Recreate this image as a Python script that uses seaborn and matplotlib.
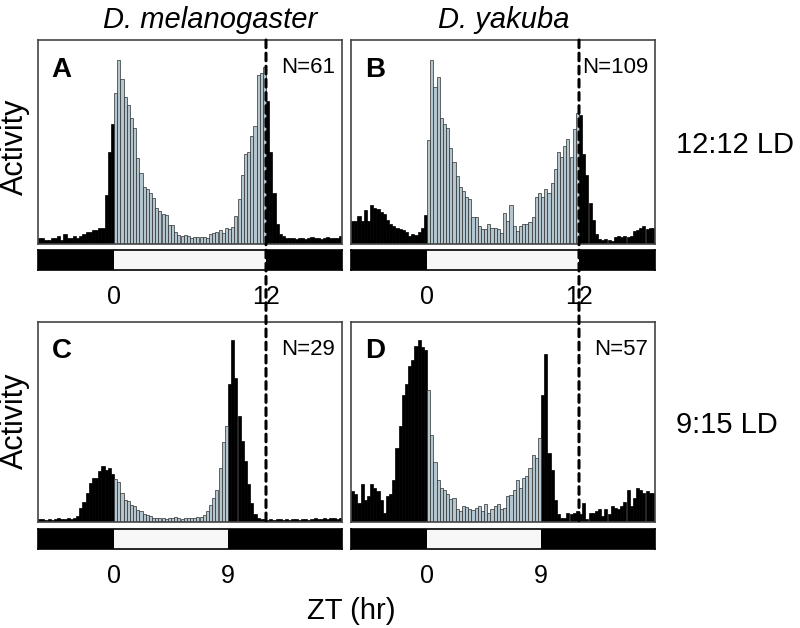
import numpy as np
import pandas as pd
import matplotlib
matplotlib.use("Agg")
import matplotlib.pyplot as plt
import seaborn as sns
from matplotlib.patches import ConnectionPatch

sns.set_style("white")
plt.rcParams["font.family"] = ["Liberation Sans", "DejaVu Sans"]
plt.rcParams["text.color"] = "black"
plt.rcParams["xtick.color"] = "black"
plt.rcParams["xtick.labelcolor"] = "black"

# -----------------------------
# DATA  (mean activity per 15-min bin, ZT -6 .. 18, % of panel height)
# -----------------------------
species = ["D. melanogaster", "D. yakuba"]
regimes = ["12:12 LD", "9:15 LD"]
light_hours = [12, 9]
panel_letters = ["A", "B", "C", "D"]
n_flies = ["N=61", "N=109", "N=29", "N=57"]
xtick_labels = [["0", "12"], ["0", "9"]]

act_A = [3, 3, 2, 2, 3, 3, 4, 2, 5, 3, 3, 4, 3, 4, 5, 6, 6, 7, 7, 8, 8, 24, 45, 59,
         74, 90, 81, 72, 68, 62, 57, 42, 35, 28, 27, 25, 22.5, 17.5, 16, 14.5, 14, 9.5, 9.5, 6,
         4.5, 4, 4.5, 4, 3, 3.3, 3.3, 3.3, 3.3, 3, 5, 5.5, 6, 7, 5.5, 8, 7.5, 8.5, 13.5, 22,
         34, 44, 45, 53, 58, 83, 84, 87,
         70, 45, 25, 10, 5, 4, 3, 3, 3, 2.5, 3, 3, 2.5, 3, 3.5, 3, 3, 2.5, 3, 3.5, 3, 3, 3, 4]

act_B = [11.5, 11.5, 13.5, 11.5, 16.5, 11.5, 19, 17.5, 17, 15.5, 14.5, 12, 10, 9, 8, 7.5,
         7, 6, 4, 5, 4.5, 6, 8, 14,
         51, 90, 77, 82, 62, 59, 57, 47, 40, 33.5, 28, 26, 23, 22, 13, 13, 9, 7.5, 7.5, 10,
         8, 8, 7.5, 5.5, 15, 11.5, 19, 9, 6.5, 9, 10, 10, 11, 13, 23, 25, 23, 27, 25, 30,
         37, 45, 42.5, 48, 51.5, 42.5, 56.5, 64,
         63, 44, 34, 20, 12, 5, 2.5, 2, 2.5, 2, 1.5, 3.3, 4, 3.3, 4, 3.3, 4, 6.5, 7, 8, 9,
         7.5, 8, 8]

act_C = [1.5, 1.5, 1, 1.5, 1, 1.5, 2, 1.5, 1.5, 2, 1.5, 2, 3, 7, 10, 14.5, 19.5, 22, 22,
         25.5, 28, 26, 27, 24,
         21.5, 20, 14.5, 11, 10.5, 8.5, 8, 6, 5.5, 4, 3.5, 3, 2, 2, 2, 2, 1.5, 2, 2, 2.5,
         2, 1.5, 2, 2, 2, 2, 2.5, 2.5, 3.5, 5.5, 8.5, 12, 16, 27, 40, 48,
         69, 91, 72, 53, 40.5, 30.5, 19, 9.5, 4, 2, 1.5, 1.5, 1, 1.5, 1, 1.5, 1.5, 1, 1.5,
         1, 1.5, 1.5, 1, 1.5, 1.5, 1, 1.5, 2, 1.5, 1.5, 2, 1.5, 2, 2, 1.5, 2]

act_D = [15.5, 14, 9.5, 19, 11, 13, 19, 17, 15.5, 11, 4.5, 13,
         14, 21, 37, 48, 63.5, 69, 78, 81, 88, 91, 87.5, 86,
         66, 43.5, 30, 21, 17, 16, 14, 11.5, 12, 6.5, 5.5, 8, 7.5, 6.5, 6, 7, 8, 5.5, 9,
         4.5, 6.5, 8, 9, 6.5, 7, 13, 13.5, 16, 21, 17, 22, 23, 27, 33.5, 32, 42,
         63.5, 84, 34.5, 26, 11, 4, 2, 2, 4.5, 4, 4.5, 5.5, 4, 9.5, 1.5, 4.5, 4.5, 5.5,
         6.5, 3, 6.5, 4, 8, 7, 6.5, 8, 10, 16, 8, 12, 17, 16, 14.5, 15.5, 14.5, 14.5]

activity = [act_A, act_B, act_C, act_D]

# -----------------------------
# STYLE / LAYOUT
# -----------------------------
BIN = 0.25
ZT_MIN, ZT_MAX = -6, 18
LIGHT_COL = "#b3c6cf"
DARK_COL = "black"
FRAME_COL = "#444444"

W, H = 800, 628
col_left = [38, 351]
row_top = [40, 322]
panel_w, panel_h = 304, [204, 200]
ld_top = [250, 529]
ld_h = 20


def fig_rect(x0, y0, w, h):
    return [x0 / W, 1 - (y0 + h) / H, w / W, h / H]


fig = plt.figure(figsize=(W / 100, H / 100), dpi=100)

bin_centers = np.arange(ZT_MIN, ZT_MAX, BIN) + BIN / 2
axes = {}
for r in range(2):
    for c in range(2):
        k = r * 2 + c
        ax = fig.add_axes(fig_rect(col_left[c], row_top[r], panel_w, panel_h[r]))
        ld = fig.add_axes(fig_rect(col_left[c], ld_top[r], panel_w, ld_h))
        axes[k] = ax

        df = pd.DataFrame({"zt": bin_centers, "activity": activity[k]})
        is_light = (df["zt"] > 0) & (df["zt"] < light_hours[r])
        for part, col in [(df[~is_light], DARK_COL), (df[is_light], LIGHT_COL)]:
            sns.histplot(data=part, x="zt", weights="activity", binwidth=BIN,
                         binrange=(ZT_MIN, ZT_MAX), color=col, alpha=1,
                         edgecolor="#2e2e2e" if col == LIGHT_COL else "black",
                         linewidth=0.5, ax=ax)
        ax.set_xlim(ZT_MIN, ZT_MAX)
        ax.set_ylim(0, 100)
        ax.set_xticks([])
        ax.set_yticks([])
        ax.set_xlabel("")
        ax.set_ylabel("")
        for s in ax.spines.values():
            s.set_color(FRAME_COL)
            s.set_linewidth(1.2)

        ax.text(0.045, 0.855, panel_letters[k], transform=ax.transAxes,
                fontsize=20, fontweight="bold", va="center", ha="left")
        ax.text(0.978, 0.865, n_flies[k], transform=ax.transAxes,
                fontsize=16, va="center", ha="right")

        # light / dark bar
        ld.axvspan(ZT_MIN, 0, color="black", lw=0)
        ld.axvspan(0, light_hours[r], color="#f7f7f7", lw=0)
        ld.axvspan(light_hours[r], ZT_MAX, color="black", lw=0)
        ld.set_xlim(ZT_MIN, ZT_MAX)
        ld.set_yticks([])
        ld.set_xticks([0, light_hours[r]])
        ld.set_xticklabels(xtick_labels[r])
        ld.tick_params(axis="x", length=0, labelsize=18, pad=11)
        for s in ld.spines.values():
            s.set_color("black")
            s.set_linewidth(1.2)

# dashed ZT12 line running down each column
for c in range(2):
    con = ConnectionPatch(xyA=(12, 100), coordsA=axes[c].transData,
                          xyB=(12, 0), coordsB=axes[2 + c].transData,
                          color="black", lw=2.2, linestyle=(0, (2.5, 1.8)))
    fig.add_artist(con)

# labels
fig.text(210 / W, 1 - 20 / H, species[0], fontsize=21, style="italic",
         ha="center", va="center")
fig.text(504 / W, 1 - 20 / H, species[1], fontsize=21, style="italic",
         ha="center", va="center")
for r, yc in enumerate([147, 421]):
    fig.text(15 / W, 1 - yc / H, "Activity", fontsize=22, rotation=90,
             ha="center", va="center")
for r, yc in enumerate([145, 425]):
    fig.text(676 / W, 1 - yc / H, regimes[r], fontsize=21, ha="left", va="center")
fig.text(351 / W, 1 - 611 / H, "ZT (hr)", fontsize=21, ha="center", va="center")

plt.savefig("out.png", dpi=100)
